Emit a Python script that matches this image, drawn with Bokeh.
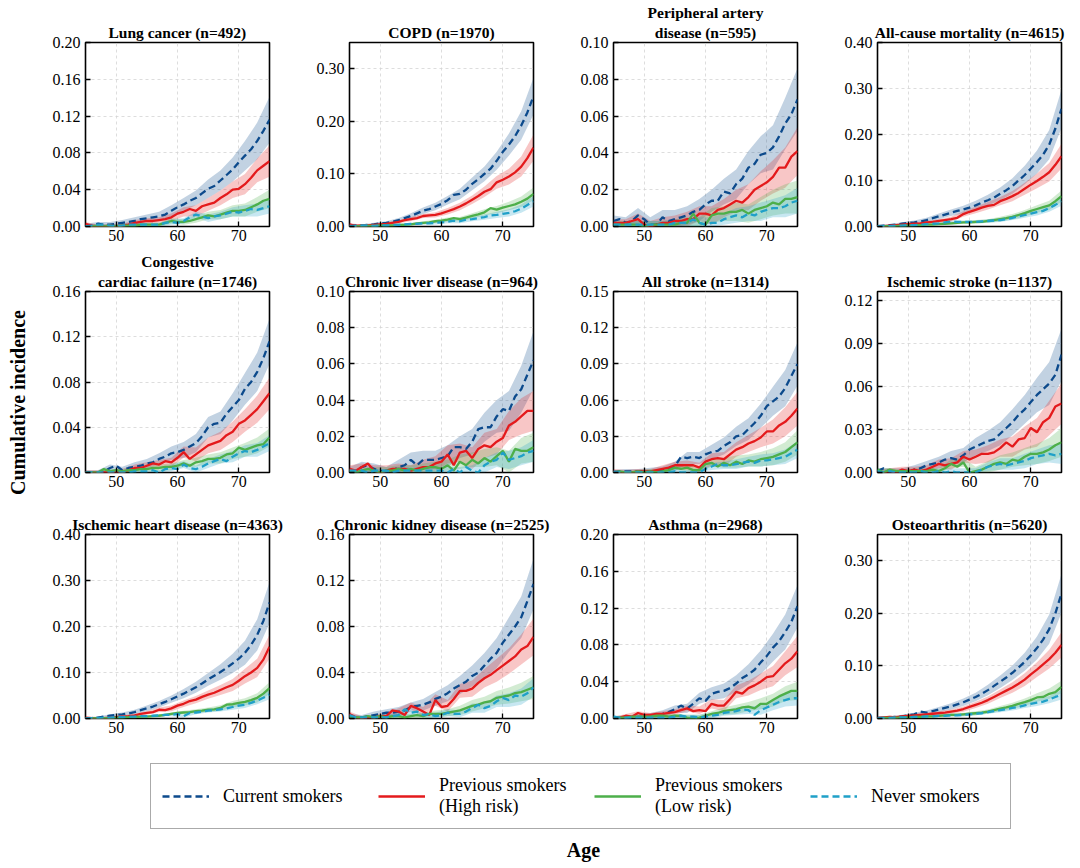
import math
from bokeh.plotting import figure
from bokeh.layouts import row, column
from bokeh.models import Range1d, FixedTicker, PrintfTickFormatter, Label, Legend, LegendItem, Title
from bokeh.embed import file_html
from bokeh.resources import INLINE

# ---------------- data ----------------
ages = list(range(45, 76))          # line points, 1-year steps
band_ages = ages[::2]               # CI band points, 2-year steps

series_names = ["Current smokers", "Previous smokers\n(High risk)", "Previous smokers\n(Low risk)", "Never smokers"]
xticks = [50, 60, 70]

# Lung cancer
lung_cur = [0.001,0.001,0.003,0.002,0.002, 0.003,0.004,0.005,0.006,0.008, 0.009,0.010,0.011,0.013,0.017, 0.021,0.024,0.028,0.031,0.036, 0.041,0.044,0.050,0.056,0.062, 0.070,0.077,0.084,0.093,0.104, 0.116]
lung_high = [0.003,0.001,0.000,0.000,0.001, 0.000,0.001,0.002,0.004,0.005, 0.006,0.006,0.007,0.008,0.010, 0.014,0.016,0.019,0.017,0.022, 0.024,0.026,0.031,0.035,0.040, 0.041,0.046,0.053,0.061,0.066, 0.071]
lung_low = [0.000,0.000,0.001,0.000,0.001, 0.000,0.001,0.001,0.001,0.002, 0.002,0.002,0.002,0.004,0.006, 0.005,0.005,0.006,0.008,0.010, 0.012,0.011,0.013,0.015,0.017, 0.017,0.018,0.021,0.024,0.028, 0.030]
lung_never = [0.000,0.001,0.002,0.002,0.001, 0.000,0.001,0.002,0.002,0.002, 0.002,0.002,0.002,0.004,0.005, 0.004,0.006,0.010,0.013,0.011, 0.009,0.011,0.012,0.014,0.016, 0.015,0.017,0.019,0.018,0.020, 0.022]
lung_cur_hw = [0.002,0.002,0.003,0.003,0.004,0.004,0.005,0.006,0.007,0.008,0.010,0.011,0.013,0.016,0.020,0.025]
lung_high_hw = [0.002,0.002,0.002,0.002,0.003,0.003,0.003,0.004,0.005,0.006,0.007,0.008,0.009,0.011,0.013,0.017]
lung_low_hw = [0.001,0.001,0.001,0.002,0.002,0.002,0.002,0.003,0.003,0.004,0.004,0.005,0.006,0.007,0.008,0.010]
lung_never_hw = [0.001,0.001,0.001,0.002,0.002,0.002,0.002,0.003,0.003,0.003,0.004,0.004,0.005,0.006,0.007,0.008]

# COPD
copd_cur = [0.001,0.002,0.002,0.003,0.004, 0.006,0.007,0.009,0.012,0.016, 0.020,0.025,0.030,0.033,0.038, 0.043,0.050,0.060,0.062,0.070, 0.081,0.090,0.100,0.110,0.125, 0.142,0.156,0.172,0.192,0.217, 0.248]
copd_high = [0.004,0.001,0.002,0.002,0.003, 0.004,0.005,0.007,0.009,0.012, 0.014,0.016,0.020,0.021,0.022, 0.025,0.029,0.033,0.038,0.044, 0.051,0.058,0.066,0.071,0.084, 0.089,0.095,0.103,0.114,0.130, 0.150]
copd_low = [0.000,0.000,0.001,0.001,0.001, 0.002,0.002,0.002,0.003,0.003, 0.004,0.006,0.007,0.008,0.010, 0.011,0.013,0.016,0.014,0.017, 0.020,0.023,0.027,0.035,0.032, 0.036,0.039,0.042,0.047,0.053, 0.062]
copd_never = [0.001,0.001,0.002,0.002,0.001, 0.002,0.002,0.003,0.003,0.004, 0.005,0.005,0.006,0.006,0.007, 0.008,0.009,0.011,0.010,0.013, 0.014,0.016,0.018,0.021,0.022, 0.024,0.026,0.029,0.034,0.041, 0.048]
copd_cur_hw = [0.002,0.002,0.003,0.003,0.004,0.005,0.006,0.007,0.008,0.010,0.012,0.014,0.017,0.021,0.027,0.035]
copd_high_hw = [0.002,0.002,0.002,0.003,0.003,0.004,0.004,0.005,0.006,0.007,0.008,0.010,0.012,0.015,0.019,0.025]
copd_low_hw = [0.001,0.001,0.001,0.002,0.002,0.002,0.003,0.003,0.004,0.004,0.005,0.006,0.007,0.008,0.010,0.012]
copd_never_hw = [0.001,0.001,0.001,0.002,0.002,0.002,0.002,0.003,0.003,0.004,0.004,0.005,0.006,0.007,0.008,0.010]

# Peripheral artery disease
pad_cur = [0.003,0.004,0.002,0.003,0.006, 0.004,0.001,0.001,0.005,0.003, 0.004,0.005,0.006,0.008,0.009, 0.012,0.014,0.014,0.019,0.018, 0.023,0.026,0.032,0.034,0.039, 0.040,0.043,0.049,0.056,0.061, 0.069]
pad_high = [0.002,0.002,0.002,0.003,0.004, 0.001,0.000,0.001,0.002,0.002, 0.003,0.003,0.004,0.004,0.007, 0.007,0.006,0.009,0.010,0.012, 0.014,0.013,0.016,0.020,0.022, 0.024,0.027,0.032,0.032,0.038, 0.041]
pad_low = [0.001,0.001,0.001,0.001,0.001, 0.000,0.001,0.001,0.001,0.001, 0.001,0.002,0.002,0.007,0.002, 0.001,0.006,0.007,0.007,0.008, 0.008,0.009,0.007,0.009,0.010, 0.011,0.013,0.012,0.015,0.015, 0.016]
pad_never = [0.001,0.001,0.001,0.001,0.001, 0.001,0.001,0.001,0.001,0.001, 0.002,0.002,0.002,0.004,0.002, 0.001,0.002,0.002,0.004,0.005, 0.006,0.005,0.007,0.006,0.008, 0.009,0.010,0.010,0.011,0.013, 0.014]
pad_cur_hw = [0.003,0.003,0.004,0.004,0.004,0.005,0.005,0.006,0.006,0.007,0.008,0.009,0.010,0.012,0.014,0.017]
pad_high_hw = [0.002,0.002,0.003,0.003,0.003,0.003,0.004,0.004,0.005,0.005,0.006,0.007,0.008,0.009,0.011,0.013]
pad_low_hw = [0.002,0.002,0.002,0.002,0.002,0.003,0.003,0.003,0.004,0.004,0.005,0.005,0.006,0.007,0.008,0.009]
pad_never_hw = [0.001,0.001,0.002,0.002,0.002,0.002,0.002,0.003,0.003,0.003,0.004,0.004,0.005,0.005,0.006,0.007]

# All-cause mortality
acm_cur = [0.001,0.002,0.003,0.004,0.006, 0.008,0.009,0.011,0.014,0.018, 0.022,0.026,0.030,0.034,0.037, 0.041,0.046,0.052,0.057,0.063, 0.071,0.079,0.088,0.100,0.112, 0.126,0.140,0.156,0.178,0.213, 0.256]
acm_high = [0.001,0.001,0.002,0.003,0.004, 0.005,0.006,0.007,0.009,0.010, 0.012,0.014,0.016,0.019,0.027, 0.032,0.036,0.041,0.045,0.047, 0.055,0.060,0.066,0.073,0.082, 0.091,0.099,0.108,0.118,0.134, 0.153]
acm_low = [0.000,0.001,0.001,0.001,0.002, 0.002,0.003,0.003,0.004,0.004, 0.005,0.006,0.007,0.008,0.009, 0.009,0.010,0.010,0.012,0.014, 0.016,0.018,0.021,0.025,0.029, 0.034,0.038,0.042,0.046,0.055, 0.066]
acm_never = [0.001,0.001,0.001,0.002,0.002, 0.003,0.003,0.004,0.005,0.006, 0.007,0.009,0.011,0.010,0.010, 0.010,0.010,0.011,0.012,0.013, 0.014,0.016,0.019,0.022,0.025, 0.028,0.031,0.034,0.040,0.047, 0.055]
acm_cur_hw = [0.002,0.002,0.003,0.004,0.005,0.006,0.007,0.008,0.010,0.012,0.014,0.017,0.020,0.025,0.032,0.042]
acm_high_hw = [0.002,0.002,0.002,0.003,0.003,0.004,0.005,0.006,0.007,0.008,0.009,0.011,0.013,0.016,0.020,0.027]
acm_low_hw = [0.001,0.001,0.001,0.002,0.002,0.002,0.003,0.003,0.004,0.004,0.005,0.006,0.007,0.008,0.010,0.012]
acm_never_hw = [0.001,0.001,0.001,0.002,0.002,0.002,0.002,0.003,0.003,0.004,0.004,0.005,0.006,0.007,0.008,0.010]

# Congestive cardiac failure
ccf_cur = [0.000,0.000,0.000,0.001,0.004, 0.006,0.002,0.004,0.005,0.006, 0.008,0.009,0.012,0.014,0.017, 0.018,0.020,0.023,0.026,0.032, 0.040,0.043,0.044,0.052,0.058, 0.064,0.074,0.080,0.089,0.101, 0.116]
ccf_high = [0.000,0.000,0.000,0.000,0.000, 0.001,0.000,0.002,0.004,0.004, 0.006,0.008,0.007,0.010,0.009, 0.013,0.018,0.012,0.016,0.020, 0.024,0.026,0.028,0.033,0.036, 0.043,0.046,0.051,0.056,0.063, 0.070]
ccf_low = [0.000,0.000,0.000,0.003,0.001, 0.002,0.001,0.002,0.002,0.003, 0.003,0.004,0.004,0.005,0.005, 0.006,0.008,0.006,0.009,0.010, 0.012,0.012,0.013,0.016,0.017, 0.022,0.020,0.022,0.024,0.025, 0.031]
ccf_never = [0.000,0.000,0.000,0.000,0.000, 0.000,0.000,0.000,0.001,0.001, 0.001,0.002,0.000,0.003,0.004, 0.003,0.007,0.004,0.003,0.005, 0.008,0.010,0.012,0.010,0.014, 0.017,0.019,0.018,0.020,0.023, 0.026]
ccf_cur_hw = [0.002,0.002,0.003,0.003,0.004,0.004,0.005,0.006,0.007,0.008,0.009,0.010,0.012,0.014,0.017,0.020]
ccf_high_hw = [0.002,0.002,0.002,0.003,0.003,0.003,0.004,0.004,0.005,0.006,0.007,0.008,0.009,0.010,0.012,0.014]
ccf_low_hw = [0.001,0.001,0.002,0.002,0.002,0.002,0.003,0.003,0.003,0.004,0.004,0.005,0.005,0.006,0.007,0.008]
ccf_never_hw = [0.001,0.001,0.001,0.002,0.002,0.002,0.002,0.003,0.003,0.003,0.004,0.004,0.005,0.005,0.006,0.007]

# Chronic liver disease
liver_cur = [0.001,0.001,0.003,0.004,0.002, 0.001,0.000,0.001,0.003,0.004, 0.007,0.004,0.007,0.007,0.007, 0.008,0.009,0.014,0.014,0.013, 0.017,0.024,0.025,0.025,0.031, 0.035,0.034,0.042,0.046,0.054, 0.062]
liver_high = [0.002,0.001,0.003,0.005,0.001, 0.000,0.001,0.002,0.002,0.002, 0.001,0.002,0.003,0.003,0.005, 0.006,0.010,0.004,0.011,0.012, 0.008,0.013,0.015,0.014,0.017, 0.019,0.026,0.028,0.031,0.034, 0.034]
liver_low = [0.001,0.000,0.001,0.002,0.001, 0.000,0.001,0.001,0.002,0.001, 0.002,0.001,0.002,0.003,0.003, 0.002,0.004,0.001,0.006,0.004, 0.007,0.005,0.008,0.006,0.009, 0.012,0.006,0.013,0.012,0.012, 0.014]
liver_never = [0.001,0.001,0.001,0.000,0.001, 0.001,0.001,0.000,0.001,0.001, 0.001,0.001,0.001,0.001,0.001, 0.001,0.000,0.002,0.000,0.003, 0.001,0.000,0.004,0.006,0.007, 0.011,0.007,0.008,0.009,0.011, 0.012]
liver_cur_hw = [0.002,0.003,0.003,0.003,0.004,0.004,0.005,0.005,0.006,0.006,0.007,0.008,0.009,0.011,0.013,0.016]
liver_high_hw = [0.002,0.002,0.003,0.003,0.003,0.003,0.004,0.004,0.005,0.005,0.006,0.007,0.007,0.008,0.010,0.011]
liver_low_hw = [0.001,0.001,0.002,0.002,0.002,0.002,0.003,0.003,0.003,0.004,0.004,0.005,0.005,0.006,0.007,0.008]
liver_never_hw = [0.001,0.001,0.001,0.001,0.002,0.002,0.002,0.002,0.003,0.003,0.003,0.004,0.004,0.005,0.005,0.006]

# All stroke
stroke_cur = [0.000,0.001,0.001,0.001,0.001, 0.001,0.001,0.001,0.002,0.003, 0.005,0.013,0.012,0.013,0.012, 0.015,0.017,0.018,0.022,0.025, 0.030,0.031,0.036,0.041,0.047, 0.055,0.059,0.063,0.070,0.080, 0.090]
stroke_high = [0.001,0.000,0.000,0.000,0.001, 0.001,0.001,0.002,0.003,0.004, 0.006,0.006,0.006,0.006,0.004, 0.009,0.011,0.012,0.011,0.015, 0.019,0.021,0.024,0.026,0.029, 0.034,0.034,0.039,0.042,0.047, 0.053]
stroke_low = [0.000,0.001,0.000,0.000,0.001, 0.000,0.001,0.000,0.001,0.002, 0.004,0.003,0.004,0.002,0.002, 0.007,0.008,0.005,0.008,0.006, 0.009,0.007,0.010,0.009,0.011, 0.012,0.013,0.015,0.017,0.021, 0.025]
stroke_never = [0.001,0.000,0.000,0.000,0.000, 0.000,0.000,0.000,0.000,0.000, 0.001,0.000,0.000,0.000,0.000, 0.003,0.005,0.007,0.006,0.006, 0.007,0.008,0.009,0.008,0.010, 0.010,0.011,0.012,0.013,0.016, 0.019]
stroke_cur_hw = [0.002,0.002,0.002,0.003,0.003,0.004,0.005,0.005,0.006,0.007,0.008,0.009,0.010,0.012,0.015,0.018]
stroke_high_hw = [0.002,0.002,0.002,0.002,0.003,0.003,0.004,0.004,0.005,0.006,0.006,0.007,0.008,0.010,0.012,0.014]
stroke_low_hw = [0.001,0.001,0.001,0.002,0.002,0.002,0.003,0.003,0.003,0.004,0.005,0.005,0.006,0.007,0.008,0.010]
stroke_never_hw = [0.001,0.001,0.001,0.002,0.002,0.002,0.002,0.003,0.003,0.003,0.004,0.004,0.005,0.005,0.006,0.007]

# Ischemic stroke
istroke_cur = [0.001,0.003,0.001,0.000,0.001, 0.000,0.002,0.003,0.005,0.006, 0.007,0.009,0.010,0.009,0.012, 0.016,0.018,0.020,0.022,0.023, 0.027,0.031,0.035,0.040,0.044, 0.049,0.054,0.058,0.062,0.068, 0.082]
istroke_high = [0.000,0.000,0.001,0.000,0.002, 0.001,0.002,0.001,0.002,0.004, 0.006,0.005,0.006,0.007,0.011, 0.009,0.011,0.013,0.013,0.014, 0.017,0.021,0.018,0.023,0.024, 0.031,0.028,0.035,0.038,0.046, 0.048]
istroke_low = [0.002,0.000,0.002,0.001,0.001, 0.001,0.001,0.001,0.001,0.002, 0.001,0.003,0.006,0.004,0.007, 0.000,0.001,0.002,0.004,0.006, 0.007,0.006,0.009,0.008,0.011, 0.013,0.013,0.014,0.016,0.019, 0.021]
istroke_never = [0.001,0.000,0.001,0.000,0.000, 0.000,0.000,0.001,0.000,0.000, 0.001,0.000,0.001,0.000,0.000, 0.000,0.000,0.002,0.004,0.005, 0.006,0.005,0.006,0.007,0.008, 0.010,0.011,0.012,0.013,0.012, 0.013]
istroke_cur_hw = [0.002,0.002,0.002,0.003,0.003,0.004,0.005,0.005,0.006,0.007,0.008,0.009,0.010,0.012,0.015,0.018]
istroke_high_hw = [0.002,0.002,0.002,0.002,0.003,0.003,0.004,0.004,0.005,0.006,0.006,0.007,0.008,0.010,0.012,0.014]
istroke_low_hw = [0.001,0.001,0.001,0.002,0.002,0.002,0.003,0.003,0.003,0.004,0.005,0.005,0.006,0.007,0.008,0.010]
istroke_never_hw = [0.001,0.001,0.001,0.002,0.002,0.002,0.002,0.003,0.003,0.003,0.004,0.004,0.005,0.005,0.006,0.007]

# Ischemic heart disease
ihd_cur = [0.001,0.001,0.002,0.004,0.006, 0.008,0.009,0.011,0.014,0.018, 0.022,0.026,0.031,0.036,0.042, 0.048,0.054,0.061,0.068,0.076, 0.085,0.093,0.101,0.110,0.120, 0.130,0.143,0.160,0.182,0.212, 0.252]
ihd_high = [0.002,0.001,0.001,0.001,0.002, 0.003,0.004,0.005,0.007,0.010, 0.012,0.014,0.019,0.018,0.022, 0.028,0.032,0.038,0.041,0.047, 0.052,0.056,0.062,0.068,0.073, 0.082,0.092,0.100,0.110,0.128, 0.156]
ihd_low = [0.000,0.000,0.001,0.001,0.001, 0.002,0.002,0.003,0.003,0.004, 0.004,0.005,0.006,0.008,0.010, 0.012,0.013,0.014,0.016,0.017, 0.019,0.020,0.023,0.030,0.031, 0.034,0.036,0.040,0.045,0.054, 0.066]
ihd_never = [0.001,0.001,0.001,0.002,0.002, 0.003,0.003,0.004,0.004,0.005, 0.005,0.006,0.007,0.008,0.008, 0.010,0.005,0.012,0.013,0.015, 0.017,0.018,0.020,0.022,0.025, 0.028,0.030,0.034,0.039,0.045, 0.052]
ihd_cur_hw = [0.002,0.002,0.003,0.004,0.005,0.006,0.007,0.008,0.010,0.012,0.014,0.017,0.021,0.026,0.034,0.045]
ihd_high_hw = [0.002,0.002,0.002,0.003,0.003,0.004,0.005,0.006,0.007,0.008,0.009,0.011,0.013,0.016,0.020,0.026]
ihd_low_hw = [0.001,0.001,0.001,0.002,0.002,0.002,0.003,0.003,0.004,0.004,0.005,0.006,0.007,0.008,0.010,0.013]
ihd_never_hw = [0.001,0.001,0.001,0.002,0.002,0.002,0.002,0.003,0.003,0.004,0.004,0.005,0.006,0.007,0.008,0.010]

# Chronic kidney disease
ckd_cur = [0.002,0.001,0.001,0.002,0.003, 0.004,0.005,0.005,0.006,0.007, 0.010,0.011,0.012,0.014,0.017, 0.019,0.022,0.026,0.029,0.032, 0.037,0.040,0.046,0.052,0.057, 0.066,0.073,0.080,0.088,0.102, 0.117]
ckd_high = [0.004,0.001,0.000,0.001,0.001, 0.002,0.002,0.007,0.006,0.003, 0.011,0.009,0.006,0.003,0.016, 0.010,0.011,0.017,0.024,0.024, 0.026,0.031,0.035,0.038,0.042, 0.046,0.050,0.054,0.060,0.063, 0.071]
ckd_low = [0.001,0.001,0.001,0.002,0.001, 0.002,0.001,0.002,0.002,0.001, 0.002,0.003,0.002,0.004,0.004, 0.004,0.005,0.006,0.007,0.009, 0.011,0.012,0.014,0.015,0.018, 0.019,0.020,0.022,0.023,0.025, 0.027]
ckd_never = [0.003,0.001,0.001,0.001,0.001, 0.001,0.001,0.002,0.003,0.008, 0.005,0.006,0.003,0.004,0.002, 0.003,0.005,0.004,0.004,0.006, 0.009,0.012,0.009,0.011,0.015, 0.018,0.016,0.020,0.019,0.022, 0.027]
ckd_cur_hw = [0.002,0.002,0.003,0.003,0.004,0.004,0.005,0.006,0.007,0.008,0.009,0.011,0.013,0.015,0.018,0.022]
ckd_high_hw = [0.002,0.002,0.002,0.003,0.003,0.003,0.004,0.005,0.005,0.006,0.007,0.008,0.010,0.011,0.013,0.016]
ckd_low_hw = [0.001,0.001,0.001,0.002,0.002,0.002,0.003,0.003,0.003,0.004,0.005,0.005,0.006,0.007,0.008,0.010]
ckd_never_hw = [0.001,0.001,0.001,0.002,0.002,0.002,0.002,0.003,0.003,0.003,0.004,0.004,0.005,0.006,0.007,0.008]

# Asthma
asthma_cur = [0.001,0.000,0.001,0.001,0.002, 0.002,0.003,0.004,0.005,0.007, 0.010,0.014,0.011,0.016,0.022, 0.019,0.027,0.029,0.030,0.033, 0.038,0.044,0.048,0.053,0.061, 0.068,0.077,0.084,0.094,0.105, 0.122]
asthma_high = [0.000,0.001,0.003,0.002,0.006, 0.004,0.004,0.005,0.005,0.006, 0.007,0.009,0.011,0.008,0.009, 0.008,0.016,0.014,0.014,0.021, 0.029,0.027,0.033,0.036,0.040, 0.045,0.046,0.053,0.060,0.065, 0.073]
asthma_low = [0.001,0.001,0.001,0.002,0.002, 0.002,0.002,0.003,0.003,0.002, 0.003,0.003,0.001,0.000,0.001, 0.003,0.005,0.006,0.008,0.009, 0.010,0.012,0.013,0.011,0.016, 0.016,0.020,0.024,0.027,0.030, 0.030]
asthma_never = [0.002,0.001,0.001,0.001,0.001, 0.001,0.001,0.001,0.001,0.001, 0.002,0.003,0.002,0.002,0.001, 0.002,0.003,0.004,0.006,0.007, 0.008,0.010,0.009,0.004,0.009, 0.012,0.015,0.018,0.020,0.022, 0.022]
asthma_cur_hw = [0.002,0.002,0.003,0.003,0.004,0.004,0.005,0.006,0.007,0.008,0.009,0.011,0.013,0.015,0.019,0.023]
asthma_high_hw = [0.002,0.002,0.002,0.002,0.003,0.003,0.003,0.004,0.005,0.006,0.007,0.008,0.009,0.011,0.013,0.017]
asthma_low_hw = [0.001,0.001,0.001,0.002,0.002,0.002,0.003,0.003,0.003,0.004,0.005,0.005,0.006,0.007,0.008,0.010]
asthma_never_hw = [0.001,0.001,0.001,0.002,0.002,0.002,0.002,0.003,0.003,0.003,0.004,0.004,0.005,0.006,0.007,0.008]

# Osteoarthritis
oa_cur = [0.001,0.001,0.002,0.003,0.004, 0.006,0.008,0.013,0.011,0.014, 0.017,0.020,0.023,0.027,0.031, 0.036,0.041,0.047,0.054,0.062, 0.070,0.078,0.087,0.097,0.108, 0.120,0.134,0.150,0.170,0.200, 0.238]
oa_high = [0.001,0.002,0.003,0.002,0.004, 0.005,0.006,0.007,0.008,0.009, 0.010,0.011,0.013,0.015,0.018, 0.022,0.026,0.030,0.035,0.041, 0.047,0.053,0.059,0.066,0.074, 0.084,0.093,0.103,0.113,0.125, 0.140]
oa_low = [0.000,0.001,0.001,0.001,0.002, 0.002,0.003,0.003,0.004,0.004, 0.005,0.006,0.007,0.007,0.008, 0.009,0.010,0.011,0.013,0.016, 0.019,0.021,0.024,0.028,0.031, 0.035,0.040,0.041,0.047,0.050, 0.060]
oa_never = [0.001,0.001,0.001,0.002,0.002, 0.002,0.003,0.003,0.004,0.004, 0.005,0.005,0.006,0.006,0.007, 0.008,0.009,0.010,0.012,0.014, 0.016,0.018,0.020,0.022,0.025, 0.028,0.030,0.032,0.036,0.041, 0.045]
oa_cur_hw = [0.002,0.002,0.003,0.003,0.004,0.005,0.006,0.007,0.008,0.010,0.012,0.014,0.017,0.022,0.028,0.037]
oa_high_hw = [0.002,0.002,0.002,0.003,0.003,0.004,0.004,0.005,0.006,0.007,0.008,0.010,0.012,0.014,0.018,0.024]
oa_low_hw = [0.001,0.001,0.001,0.002,0.002,0.002,0.003,0.003,0.004,0.004,0.005,0.006,0.007,0.008,0.010,0.012]
oa_never_hw = [0.001,0.001,0.001,0.002,0.002,0.002,0.002,0.003,0.003,0.003,0.004,0.005,0.005,0.006,0.007,0.009]

# title lines, top line first
panel_titles = [["Lung cancer (n=492)"], ["COPD (n=1970)"], ["Peripheral artery", "disease (n=595)"], ["All-cause mortality (n=4615)"],
                ["Congestive", "cardiac failure (n=1746)"], ["Chronic liver disease (n=964)"], ["All stroke (n=1314)"], ["Ischemic stroke (n=1137)"],
                ["Ischemic heart disease (n=4363)"], ["Chronic kidney disease (n=2525)"], ["Asthma (n=2968)"], ["Osteoarthritis (n=5620)"]]
panel_ymax = [0.20, 0.35, 0.10, 0.40, 0.16, 0.10, 0.15, 0.126, 0.40, 0.16, 0.20, 0.35]
panel_yticks = [[0, 0.04, 0.08, 0.12, 0.16, 0.20], [0, 0.10, 0.20, 0.30], [0, 0.02, 0.04, 0.06, 0.08, 0.10], [0, 0.10, 0.20, 0.30, 0.40],
                [0, 0.04, 0.08, 0.12, 0.16], [0, 0.02, 0.04, 0.06, 0.08, 0.10], [0, 0.03, 0.06, 0.09, 0.12, 0.15], [0, 0.03, 0.06, 0.09, 0.12],
                [0, 0.10, 0.20, 0.30, 0.40], [0, 0.04, 0.08, 0.12, 0.16], [0, 0.04, 0.08, 0.12, 0.16, 0.20], [0, 0.10, 0.20, 0.30]]
panel_series = [
    [lung_cur, lung_high, lung_low, lung_never],
    [copd_cur, copd_high, copd_low, copd_never],
    [pad_cur, pad_high, pad_low, pad_never],
    [acm_cur, acm_high, acm_low, acm_never],
    [ccf_cur, ccf_high, ccf_low, ccf_never],
    [liver_cur, liver_high, liver_low, liver_never],
    [stroke_cur, stroke_high, stroke_low, stroke_never],
    [istroke_cur, istroke_high, istroke_low, istroke_never],
    [ihd_cur, ihd_high, ihd_low, ihd_never],
    [ckd_cur, ckd_high, ckd_low, ckd_never],
    [asthma_cur, asthma_high, asthma_low, asthma_never],
    [oa_cur, oa_high, oa_low, oa_never],
]
panel_hw = [
    [lung_cur_hw, lung_high_hw, lung_low_hw, lung_never_hw],
    [copd_cur_hw, copd_high_hw, copd_low_hw, copd_never_hw],
    [pad_cur_hw, pad_high_hw, pad_low_hw, pad_never_hw],
    [acm_cur_hw, acm_high_hw, acm_low_hw, acm_never_hw],
    [ccf_cur_hw, ccf_high_hw, ccf_low_hw, ccf_never_hw],
    [liver_cur_hw, liver_high_hw, liver_low_hw, liver_never_hw],
    [stroke_cur_hw, stroke_high_hw, stroke_low_hw, stroke_never_hw],
    [istroke_cur_hw, istroke_high_hw, istroke_low_hw, istroke_never_hw],
    [ihd_cur_hw, ihd_high_hw, ihd_low_hw, ihd_never_hw],
    [ckd_cur_hw, ckd_high_hw, ckd_low_hw, ckd_never_hw],
    [asthma_cur_hw, asthma_high_hw, asthma_low_hw, asthma_never_hw],
    [oa_cur_hw, oa_high_hw, oa_low_hw, oa_never_hw],
]

# ---------------- style ----------------
FONT = '"Liberation Serif", "Times New Roman", serif'
COLORS = ["#0c4a8c", "#e41a1c", "#4daf4a", "#1fa0c8"]
DASHES = ["7 4", "solid", "solid", "7 4"]
FRAME = 184
COLW = 264
ROWH = 246
YLW = 38          # width of the y-label strip
BL, BT, BB = 47, 38, 24
TOP1 = 4          # extra top space for the first row


def style_title(t):
    t.text_font = FONT
    t.text_font_style = "bold"
    t.text_font_size = "15.5px"
    t.text_color = "black"
    t.align = "center"


def make_panel(i):
    col = i % 4
    first = i < 4
    w = COLW if col < 3 else BL + FRAME + 8
    bt = BT + (TOP1 if first else 0)
    p = figure(width=w, height=ROWH + (TOP1 if first else 0), x_range=Range1d(45, 75), y_range=Range1d(0, panel_ymax[i]),
               toolbar_location=None, output_backend="svg",
               min_border_left=BL, min_border_right=w - BL - FRAME, min_border_top=bt, min_border_bottom=BB)
    lines = panel_titles[i]
    # figure's own title is the outermost line; extra lines added with add_layout sit closer to the frame
    p.title.text = lines[0]
    style_title(p.title)
    if len(lines) == 1:
        p.title.standoff = 3
    else:
        p.title.standoff = 0
        for extra in lines[1:]:
            t = Title(text=extra)
            style_title(t)
            t.standoff = 3
            p.add_layout(t, "above")

    p.xaxis.ticker = FixedTicker(ticks=xticks)
    p.yaxis.ticker = FixedTicker(ticks=panel_yticks[i])
    p.yaxis.formatter = PrintfTickFormatter(format="%.2f")
    for ax in (p.xaxis[0], p.yaxis[0]):
        ax.axis_line_color = None
        ax.major_tick_in = 5
        ax.major_tick_out = 0
        ax.major_tick_line_color = "black"
        ax.major_tick_line_width = 1.3
        ax.minor_tick_line_color = None
        ax.major_label_text_font = FONT
        ax.major_label_text_font_size = "16px"
        ax.major_label_text_color = "black"
    p.yaxis.major_label_standoff = 5
    p.xaxis.major_label_standoff = 3
    p.xgrid.ticker = FixedTicker(ticks=xticks)
    p.ygrid.ticker = FixedTicker(ticks=panel_yticks[i])
    for g in (p.xgrid[0], p.ygrid[0]):
        g.grid_line_color = "#d4d4d4"
        g.grid_line_dash = "3 3"
        g.grid_line_width = 0.8
    p.outline_line_color = "black"
    p.outline_line_width = 1.6
    p.outline_line_alpha = 1.0

    series = panel_series[i]
    hws = panel_hw[i]
    for k in range(4):
        vals = series[k]
        mid = vals[::2]
        lo = [max(0.0, m - h) for m, h in zip(mid, hws[k])]
        hi = [m + h for m, h in zip(mid, hws[k])]
        p.varea(x=band_ages, y1=lo, y2=hi, fill_color=COLORS[k], fill_alpha=0.25)
    for k in range(4):
        p.line(ages, series[k], line_color=COLORS[k], line_width=2.3, line_dash=DASHES[k])
    return p


panels = [make_panel(i) for i in range(12)]
grid = column(row(*panels[0:4]), row(*panels[4:8]), row(*panels[8:12]))
GRID_H = 3 * ROWH + TOP1

# y-axis label strip
ylab = figure(width=YLW, height=GRID_H, x_axis_type=None, y_axis_type=None, toolbar_location=None,
              output_backend="svg", min_border=0, x_range=Range1d(0, 1), y_range=Range1d(0, 1))
ylab.outline_line_color = None
ylab.add_layout(Label(x=17, y=GRID_H - 402, x_units="screen", y_units="screen", text="Cumulative incidence",
                      angle=math.pi / 2, text_align="center", text_baseline="middle", text_font=FONT,
                      text_font_style="bold", text_font_size="20px", text_color="black"))

# legend + x label strip
LW = YLW + 3 * COLW + BL + FRAME + 8
LH = 124
lf = figure(width=LW, height=LH, x_axis_type=None, y_axis_type=None, toolbar_location=None,
            output_backend="svg", min_border=0, x_range=Range1d(0, 1), y_range=Range1d(0, 1))
lf.outline_line_color = None
items = []
for k in range(4):
    # sample renderers placed outside the visible range: only their legend glyphs are shown
    r = lf.line(x=[5, 6], y=[5, 5], line_color=COLORS[k], line_width=2.3, line_dash=DASHES[k])
    items.append(LegendItem(label=series_names[k], renderers=[r]))
legend = Legend(items=items, orientation="horizontal", location=(150, LH - (829 - GRID_H)),
                label_text_font=FONT, label_text_font_size="18px", label_text_color="black",
                label_text_line_height=1.05, glyph_width=47, glyph_height=20, label_standoff=14,
                label_width=128, spacing=27, padding=11, margin=0, border_line_color="#555555", border_line_width=1,
                background_fill_color="white", background_fill_alpha=1.0)
lf.add_layout(legend, "center")
lf.add_layout(Label(x=583, y=LH - (849 - GRID_H), x_units="screen", y_units="screen", text="Age", text_align="center",
                    text_baseline="middle", text_font=FONT, text_font_style="bold", text_font_size="20px",
                    text_color="black"))

layout = column(row(ylab, grid), lf)

with open("out.html", "w") as f:
    f.write(file_html(layout, INLINE))
